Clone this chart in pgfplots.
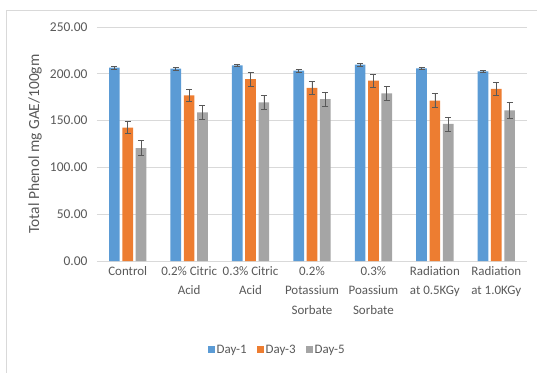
\documentclass[border=0pt]{standalone}
\usepackage{pgfplots}
\pgfplotsset{compat=1.18}
\usepackage{fontspec}
\setmainfont{Carlito}
\definecolor{cblue}{HTML}{5B9BD5}
\definecolor{corange}{HTML}{ED7D31}
\definecolor{cgray}{HTML}{A5A5A5}
\definecolor{ctext}{HTML}{595959}
\definecolor{cgrid}{HTML}{D9D9D9}
\definecolor{cerr}{HTML}{595959}
\begin{document}
\begin{tikzpicture}
\useasboundingbox (-97bp,-112bp) rectangle (440bp,261bp);
\draw[cgrid, line width=0.8pt] (-91bp,-112bp) -- (-91bp,251bp) -- (440bp,251bp);
\begin{axis}[
  at={(0,0)}, anchor=south west,
  scale only axis, width=430bp, height=234bp,
  xmin=-0.5, xmax=6.5, ymin=0, ymax=250,
  ytick={0,50,100,150,200,250},
  ymajorgrids, grid style={cgrid, line width=0.8pt},
  axis line style={draw=none},
  major tick length=0pt,
  xtick={0,1,2,3,4,5,6},
  xticklabels={Control,{0.2\% Citric\\Acid},{0.3\% Citric\\Acid},{0.2\%\\Potassium\\Sorbate},{0.3\%\\Poassium\\Sorbate},{Radiation\\at 0.5KGy},{Radiation\\at 1.0KGy}},
  xticklabel style={align=center, text=ctext, font=\fontsize{13}{19.5}\selectfont, yshift=-2bp},
  yticklabel style={text=ctext, font=\fontsize{13.5}{15}\selectfont, xshift=-6bp},
  /pgf/number format/assume math mode=true,
  yticklabel={\pgfmathprintnumber[fixed,fixed zerofill,precision=2]{\tick}},
  ylabel={Total Phenol mg GAE/100gm},
  every axis y label/.style={at={(axis description cs:-0.144,0.5)}, rotate=90, anchor=center, font=\fontsize{15.5}{17}\selectfont, text=ctext},
  ybar, bar width=0.174,
  legend columns=3,
  legend style={draw=none, fill=none, at={(axis description cs:0.419,-0.380)}, anchor=center, font=\fontsize{13}{15}\selectfont, text=ctext, /tikz/every even column/.append style={column sep=8bp}},
  legend image code/.code={\fill[#1] (0bp,-3.5bp) rectangle (7bp,3.5bp);},
  error bars/y dir=both, error bars/y explicit,
  error bars/error bar style={cerr, line width=0.7pt},
  error bars/error mark options={cerr, line width=0.7pt, mark size=3bp, rotate=90},
]
\addplot[fill=cblue, draw=none, bar shift=-0.217] coordinates {
  (0,206.5) +- (0,1.5)
  (1,205.4) +- (0,1.2)
  (2,209.0) +- (0,1.5)
  (3,203.3) +- (0,1.5)
  (4,209.8) +- (0,1.5)
  (5,205.8) +- (0,1.5)
  (6,202.6) +- (0,1.0)
};
\addlegendentry{Day-1}
\addplot[fill=corange, draw=none, bar shift=0] coordinates {
  (0,142.4) +- (0,6.5)
  (1,177.0) +- (0,6.8)
  (2,194.4) +- (0,7.3)
  (3,185.0) +- (0,7.0)
  (4,192.7) +- (0,7.0)
  (5,171.3) +- (0,7.5)
  (6,183.8) +- (0,7.0)
};
\addlegendentry{Day-3}
\addplot[fill=cgray, draw=none, bar shift=0.217] coordinates {
  (0,120.7) +- (0,8.0)
  (1,158.8) +- (0,7.5)
  (2,169.5) +- (0,7.6)
  (3,173.0) +- (0,7.5)
  (4,179.0) +- (0,7.3)
  (5,146.4) +- (0,7.5)
  (6,161.0) +- (0,8.5)
};
\addlegendentry{Day-5}
\end{axis}
\end{tikzpicture}
\end{document}
